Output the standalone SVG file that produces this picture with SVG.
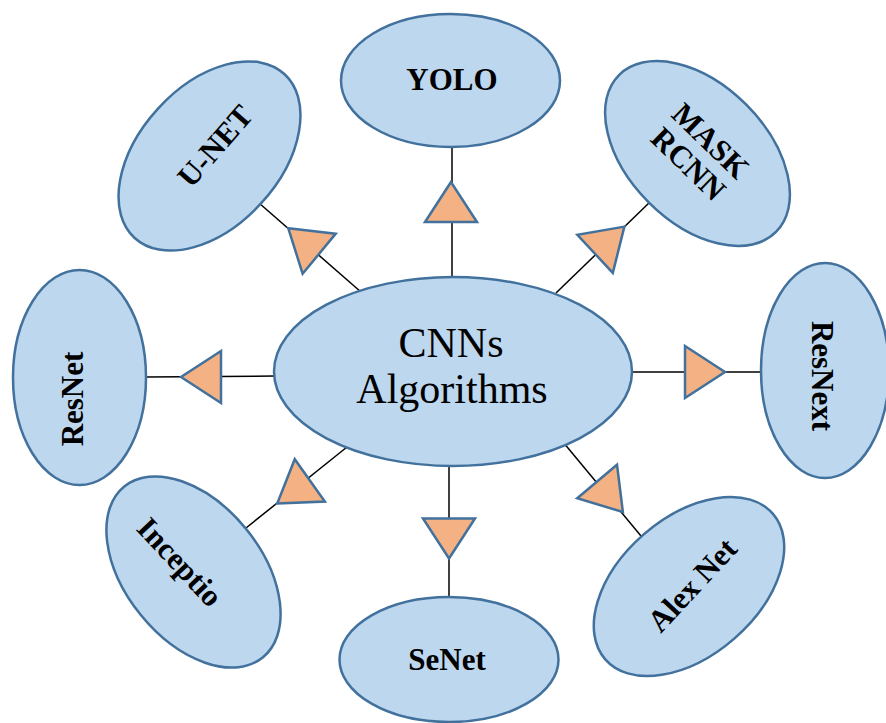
<svg xmlns="http://www.w3.org/2000/svg" xmlns:xlink="http://www.w3.org/1999/xlink" width="886" height="723" viewBox="0 0 886 723">
<style>
.node{fill:#BDD7EE;stroke:#41719C;stroke-width:2.5}
.lbl{font-family:"Liberation Serif","Times New Roman",serif;font-weight:bold;font-size:31px;fill:#000;text-anchor:middle;dominant-baseline:central}
.ctr{font-family:"Liberation Serif","Times New Roman",serif;font-size:42px;fill:#000;text-anchor:middle}
.ln{stroke:#000;stroke-width:1.5;fill:none}
.tri{fill:#F4B183;stroke:#41719C;stroke-width:2.5;stroke-linejoin:miter}
</style>
<defs>
<path id="tri" d="M20,0 L-20,-26 L-20,26 Z"/>
</defs>
<rect width="886" height="723" fill="#fff"/>
<g id="connectors">
<line class="ln" x1="452" y1="147" x2="452" y2="278"/>
<line class="ln" x1="146" y1="377" x2="275" y2="376"/>
<line class="ln" x1="631" y1="372" x2="761" y2="372"/>
<line class="ln" x1="449" y1="465" x2="449" y2="598"/>
<line class="ln" x1="259" y1="203" x2="361" y2="292"/>
<line class="ln" x1="650" y1="202" x2="556" y2="293"/>
<line class="ln" x1="246" y1="528" x2="347" y2="447"/>
<line class="ln" x1="563" y1="442" x2="646" y2="542"/>
<use href="#tri" class="tri" transform="translate(451,202) rotate(-90)"/>
<use href="#tri" class="tri" transform="translate(201,377) rotate(180)"/>
<use href="#tri" class="tri" transform="translate(705,372)"/>
<use href="#tri" class="tri" transform="translate(449,538.5) rotate(90)"/>
<use href="#tri" class="tri" transform="translate(303.75,241) rotate(-140.5)"/>
<use href="#tri" class="tri" transform="translate(609.75,240.25) rotate(-42.9)"/>
<use href="#tri" class="tri" transform="translate(293.5,492) rotate(144.6)"/>
<use href="#tri" class="tri" transform="translate(610,496.75) rotate(49.9)"/>
</g>
<g id="center">
<ellipse class="node" cx="453" cy="371.5" rx="179" ry="94.5"/>
<text class="ctr" x="451" y="357">CNNs</text>
<text class="ctr" x="452" y="403">Algorithms</text>
</g>
<g id="yolo">
<ellipse class="node" cx="450.5" cy="80.5" rx="109.5" ry="66.5"/>
<text class="lbl" x="452" y="79">YOLO</text>
</g>
<g id="unet">
<ellipse class="node" cx="209.5" cy="156" rx="111" ry="70" transform="rotate(-47.6 209.5 156)"/>
<text class="lbl" transform="translate(215,146) rotate(-49)">U-NET</text>
</g>
<g id="maskrcnn">
<ellipse class="node" cx="697.5" cy="153.5" rx="111" ry="69" transform="rotate(45 697.5 153.5)"/>
<text class="lbl" transform="translate(700,152) rotate(44)"><tspan x="0" y="-16">MASK</tspan><tspan x="0" y="16">RCNN</tspan></text>
</g>
<g id="resnet">
<ellipse class="node" cx="79.5" cy="377.5" rx="66.5" ry="107.5"/>
<text class="lbl" transform="translate(72,399) rotate(-90)">ResNet</text>
</g>
<g id="resnext">
<ellipse class="node" cx="825" cy="370.5" rx="64" ry="107.5"/>
<text class="lbl" transform="translate(822,376) rotate(90)">ResNext</text>
</g>
<g id="senet">
<ellipse class="node" cx="449" cy="659.5" rx="109.5" ry="62.5"/>
<text class="lbl" x="447" y="659">SeNet</text>
</g>
<g id="inceptio">
<ellipse class="node" cx="193.5" cy="572" rx="110" ry="68" transform="rotate(51 193.5 572)"/>
<text class="lbl" transform="translate(180,562) rotate(47)">Inceptio</text>
</g>
<g id="alexnet">
<ellipse class="node" cx="689" cy="586.5" rx="111" ry="69" transform="rotate(-41 689 586.5)"/>
<text class="lbl" transform="translate(692,585) rotate(-47)">Alex Net</text>
</g>
</svg>
